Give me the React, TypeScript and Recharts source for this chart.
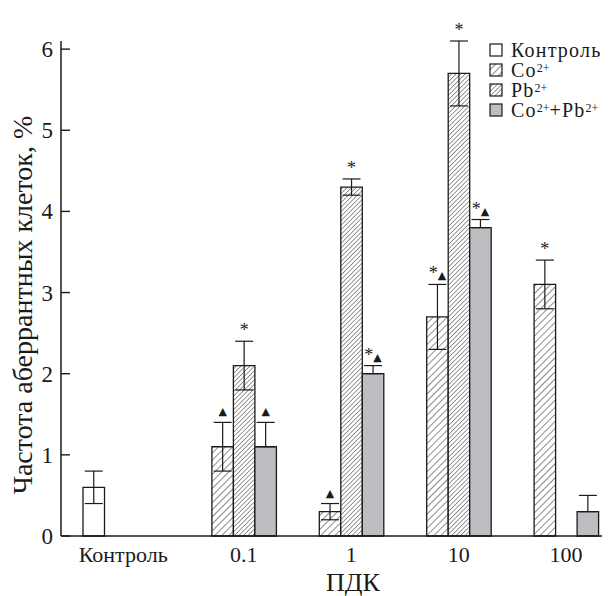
import React from "react";
import {
  BarChart,
  Bar,
  XAxis,
  YAxis,
  ErrorBar,
  LabelList,
  Legend,
  Label,
} from "recharts";

const categories = ["Контроль", "0.1", "1", "10", "100"];
const controlValues = [0.6, null, null, null, null];
const coValues = [null, 1.1, 0.3, 2.7, 3.1];
const pbValues = [null, 2.1, 4.3, 5.7, null];
const coPbValues = [null, 1.1, 2.0, 3.8, 0.3];

const controlErrors = [0.2, null, null, null, null];
const coErrors = [null, 0.3, 0.1, 0.4, 0.3];
const pbErrors = [null, 0.3, 0.1, 0.4, null];
// combined series only shows the upper whisker
const coPbErrors = [null, 0.3, 0.1, 0.1, 0.2];

const coMarks = ["", "▲", "▲", "*▲", "*"];
const pbMarks = ["", "*", "*", "*", ""];
const coPbMarks = ["", "▲", "*▲", "*▲", ""];

const yTicks = [0, 1, 2, 3, 4, 5, 6];

const INK = "#1a1a1a";
const GRAY = "#bdbec2";
const SERIF = "Liberation Serif, DejaVu Serif, serif";

const data = categories.map((name, i) => ({
  name,
  control: controlValues[i],
  controlErr: controlErrors[i],
  co: coValues[i],
  coErr: coErrors[i],
  pb: pbValues[i],
  pbErr: pbErrors[i],
  coPb: coPbValues[i],
  coPbErr: coPbErrors[i] == null ? null : [0, coPbErrors[i]],
}));

function markContent(marks: string[], values: (number | null)[], errs: (number | null)[]) {
  return (props: any) => {
    const { x, y, width, height, value } = props;
    const i = categories.indexOf(value);
    const mark = marks[i];
    const v = values[i];
    if (!mark || v == null) return null;
    const h = Math.abs(Number(height));
    const perUnit = h / v;
    const top = Number(y) - (errs[i] ?? 0) * perUnit;
    const cx = Number(x) + Number(width) / 2;
    const hasStar = mark.includes("*");
    const hasTri = mark.includes("▲");
    return (
      <text x={cx} y={top - (hasStar ? 5 : 7)} textAnchor="middle" fill={INK}>
        {hasStar && (
          <tspan style={{ fontFamily: SERIF }} fontSize={18}>
            *
          </tspan>
        )}
        {hasTri && (
          <tspan style={{ fontFamily: "DejaVu Sans" }} fontSize={11}>
            ▲
          </tspan>
        )}
      </text>
    );
  };
}

function XTick(props: any) {
  const { x, y, payload } = props;
  const i = categories.indexOf(payload.value);
  const dx = i === 0 ? -2.5 : 10.75;
  return (
    <text x={x + dx} y={y + 26} textAnchor="middle" style={{ fontFamily: SERIF }} fontSize={22} fill={INK}>
      {payload.value}
    </text>
  );
}

function YTick(props: any) {
  const { x, y, payload } = props;
  return (
    <g>
      <line x1={x + 8} x2={x + 17} y1={y} y2={y} stroke={INK} strokeWidth={1.4} />
      <text x={x} y={y} dy={8} textAnchor="end" style={{ fontFamily: SERIF }} fontSize={23} fill={INK}>
        {payload.value}
      </text>
    </g>
  );
}

const legendItems = [
  { key: "control", base: "Контроль", fill: "#fff" },
  { key: "co", base: "Co", sup: "2+", fill: "url(#legCo)" },
  { key: "pb", base: "Pb", sup: "2+", fill: "url(#legPb)" },
  { key: "coPb", base: "Co", sup: "2+", tail: "+Pb", sup2: "2+", fill: GRAY },
];

const supStyle: React.CSSProperties = {
  fontSize: 12,
  lineHeight: "12px",
  verticalAlign: "5px",
  letterSpacing: 0,
};

function LegendBox() {
  return (
    <div style={{ fontFamily: SERIF, fontSize: 20, color: INK, lineHeight: "18px", letterSpacing: 1.2 }}>
      {legendItems.map((it) => (
        <div key={it.key} style={{ display: "flex", alignItems: "center", height: 20 }}>
          <svg width={14} height={14} style={{ marginRight: 8, flex: "none" }}>
            <defs>
              <pattern id="legCo" patternUnits="userSpaceOnUse" width={5} height={5} patternTransform="rotate(45)">
                <rect width={5} height={5} fill="#fff" />
                <line x1={0} y1={0} x2={0} y2={5} stroke={INK} strokeWidth={1} />
              </pattern>
              <pattern id="legPb" patternUnits="userSpaceOnUse" width={3.2} height={3.2} patternTransform="rotate(45)">
                <rect width={3.2} height={3.2} fill="#fff" />
                <line x1={0} y1={0} x2={0} y2={3.2} stroke={INK} strokeWidth={0.9} />
              </pattern>
            </defs>
            <rect x={1} y={1} width={12} height={12} fill={it.fill} stroke={INK} strokeWidth={1.2} />
          </svg>
          <span style={{ whiteSpace: "nowrap" }}>
            {it.base}
            {it.sup && <span style={supStyle}>{it.sup}</span>}
            {it.tail}
            {it.sup2 && <span style={supStyle}>{it.sup2}</span>}
          </span>
        </div>
      ))}
    </div>
  );
}

export default function App() {
  return (
    <div style={{ position: "absolute", left: 0, top: 0, fontFamily: SERIF, background: "#fff" }}>
      <BarChart
        width={615}
        height={596}
        data={data}
        margin={{ top: 41, right: 13, bottom: 0, left: 0 }}
        barGap={0}
        barSize={21.5}
        style={{ fontFamily: SERIF }}
      >
        <defs>
          <pattern id="hatchCo" patternUnits="userSpaceOnUse" width={5} height={5} patternTransform="rotate(45)">
            <rect width={5} height={5} fill="#fff" />
            <line x1={0} y1={0} x2={0} y2={5} stroke={INK} strokeWidth={1} />
          </pattern>
          <pattern id="hatchPb" patternUnits="userSpaceOnUse" width={3.2} height={3.2} patternTransform="rotate(45)">
            <rect width={3.2} height={3.2} fill="#fff" />
            <line x1={0} y1={0} x2={0} y2={3.2} stroke={INK} strokeWidth={0.9} />
          </pattern>
        </defs>
        <XAxis
          dataKey="name"
          height={60}
          padding={{ left: 11, right: -7 }}
          tickLine={false}
          tickSize={0}
          tickMargin={0}
          axisLine={{ stroke: INK, strokeWidth: 1.5 }}
          tick={<XTick />}
          interval={0}
        >
          <Label
            content={() => (
              <text x={353} y={591} textAnchor="middle" style={{ fontFamily: SERIF }} fontSize={26} fill={INK}>
                ПДК
              </text>
            )}
          />
        </XAxis>
        <YAxis
          type="number"
          domain={[0, 6]}
          ticks={yTicks}
          width={61}
          tickLine={false}
          tickSize={0}
          tickMargin={8}
          axisLine={{ stroke: INK, strokeWidth: 1.5 }}
          tick={<YTick />}
        >
          <Label
            content={() => (
              <text
                x={22}
                y={305}
                transform="rotate(-90 22 305)"
                textAnchor="middle"
                dominantBaseline="central"
                style={{ fontFamily: SERIF }}
                fontSize={28}
                fill={INK}
              >
                Частота аберрантных клеток, %
              </text>
            )}
          />
        </YAxis>
        <Legend
          layout="vertical"
          align="center"
          verticalAlign="middle"
          content={<LegendBox />}
          wrapperStyle={{ left: 489, top: 40, width: 130, height: 82 }}
        />
        <Bar dataKey="control" fill="#fff" stroke={INK} strokeWidth={1.3} isAnimationActive={false}>
          <ErrorBar dataKey="controlErr" width={9} stroke={INK} strokeWidth={1.2} />
        </Bar>
        <Bar dataKey="co" fill="url(#hatchCo)" stroke={INK} strokeWidth={1.3} isAnimationActive={false}>
          <ErrorBar dataKey="coErr" width={9} stroke={INK} strokeWidth={1.2} />
          <LabelList dataKey="name" content={markContent(coMarks, coValues, coErrors)} />
        </Bar>
        <Bar dataKey="pb" fill="url(#hatchPb)" stroke={INK} strokeWidth={1.3} isAnimationActive={false}>
          <ErrorBar dataKey="pbErr" width={9} stroke={INK} strokeWidth={1.2} />
          <LabelList dataKey="name" content={markContent(pbMarks, pbValues, pbErrors)} />
        </Bar>
        <Bar dataKey="coPb" fill={GRAY} stroke={INK} strokeWidth={1.3} isAnimationActive={false}>
          <ErrorBar dataKey="coPbErr" width={9} stroke={INK} strokeWidth={1.2} />
          <LabelList dataKey="name" content={markContent(coPbMarks, coPbValues, coPbErrors)} />
        </Bar>
      </BarChart>
    </div>
  );
}
